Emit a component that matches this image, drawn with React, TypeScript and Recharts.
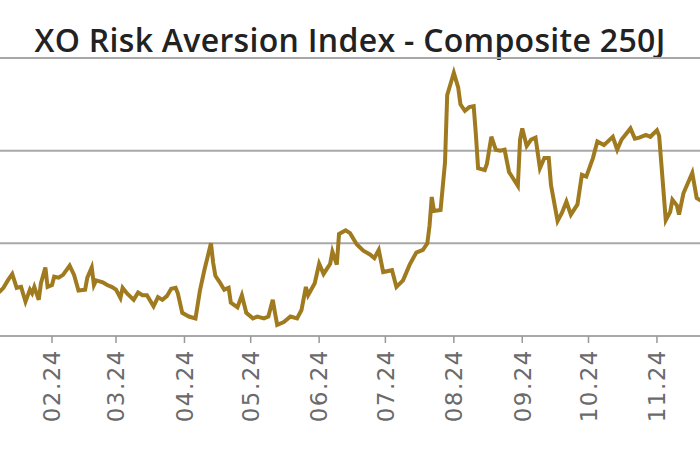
import { LineChart, Line, XAxis, YAxis, CartesianGrid } from "recharts";

// day index in 2024 (0 = 1 Jan)
const dayOfYear = [
  7, 9, 11, 13, 15, 17, 19, 21, 22, 23, 25, 26, 28, 29, 31, 32, 34, 36, 39, 41,
  43, 46, 47, 49, 50, 51, 54, 56, 58, 60, 62, 63, 65, 68, 70, 72, 74, 77, 79, 81,
  83, 85, 87, 88, 90, 93, 96, 98, 100, 103, 104, 105, 107, 109, 111, 112, 115, 117, 119, 122,
  124, 127, 129, 131, 132, 133, 136, 139, 142, 144, 146, 147, 150, 152, 154, 157, 158, 160, 161, 164,
  166, 169, 172, 175, 177, 179, 181, 185, 187, 190, 193, 196, 199, 201, 202, 203, 204, 207, 209, 210,
  212, 213, 215, 216, 218, 220, 222, 223, 224, 227, 228, 230, 232, 234, 236, 238, 242, 243, 244, 246,
  248, 250, 252, 254, 256, 257, 260, 262, 264, 266, 269, 271, 273, 276, 278, 281, 285, 287, 289, 293,
  295, 297, 300, 302, 305, 306, 309, 311, 312, 314, 315, 317, 321, 323, 325,
];

const riskIndex = [
  0.47, 0.52, 0.6, 0.67, 0.52, 0.53, 0.37, 0.5, 0.46, 0.53, 0.39, 0.57, 0.74, 0.53, 0.55, 0.64, 0.63, 0.66, 0.76, 0.66,
  0.49, 0.5, 0.63, 0.74, 0.55, 0.6, 0.58, 0.55, 0.53, 0.5, 0.41, 0.52, 0.46, 0.39, 0.47, 0.44, 0.44, 0.32, 0.42, 0.39,
  0.43, 0.51, 0.52, 0.46, 0.25, 0.21, 0.19, 0.49, 0.71, 1.0, 0.79, 0.65, 0.58, 0.5, 0.52, 0.36, 0.31, 0.44, 0.25, 0.19,
  0.21, 0.19, 0.21, 0.39, 0.25, 0.12, 0.15, 0.21, 0.19, 0.28, 0.53, 0.44, 0.57, 0.78, 0.67, 0.78, 0.91, 0.77, 1.1, 1.14,
  1.11, 0.99, 0.92, 0.88, 0.84, 0.93, 0.69, 0.71, 0.53, 0.6, 0.77, 0.9, 0.93, 1.0, 1.19, 1.5, 1.35, 1.36, 1.87, 2.6,
  2.76, 2.84, 2.68, 2.5, 2.43, 2.47, 2.48, 2.17, 1.81, 1.79, 1.86, 2.15, 2.01, 2.0, 2.01, 1.77, 1.62, 2.12, 2.24, 2.05,
  2.12, 2.14, 1.81, 1.92, 1.92, 1.63, 1.24, 1.33, 1.45, 1.31, 1.42, 1.74, 1.72, 1.92, 2.1, 2.06, 2.15, 2.01, 2.12, 2.24,
  2.13, 2.14, 2.17, 2.15, 2.22, 2.16, 1.25, 1.34, 1.47, 1.41, 1.31, 1.54, 1.76, 1.49, 1.46,
];

const monthTicks = [31, 60, 91, 121, 152, 182, 213, 244, 274, 305];
const monthLabels = ["02.24", "03.24", "04.24", "05.24", "06.24", "07.24", "08.24", "09.24", "10.24", "11.24"];
const gridLevels = [0, 1, 2, 3];

const data = dayOfYear.map((d, i) => ({ d, v: riskIndex[i] }));

function MonthTick({ x, y, payload }: any) {
  const label = monthLabels[monthTicks.indexOf(payload.value)];
  return (
    <text
      x={x}
      y={y}
      transform={`rotate(-90, ${x}, ${y})`}
      textAnchor="end"
      dy="0.36em"
      fill="#6a6a6a"
      fontSize={23}
      fontFamily="DejaVu Sans"
      letterSpacing={1.5}
    >
      {label}
    </text>
  );
}

export default function App() {
  return (
    <div style={{ position: "absolute", left: 0, top: 0, width: 700, height: 450, background: "#fff", overflow: "hidden" }}>
      <svg width={700} height={60} style={{ position: "absolute", left: 0, top: 0 }}>
        <text x={350} y={52} textAnchor="middle" fontFamily="Open Sans" fontWeight={600} fontSize={32} letterSpacing={0.3} fill="#222">
          XO Risk Aversion Index - Composite 250J
        </text>
      </svg>
      <LineChart width={700} height={450} data={data} margin={{ top: 58, right: 0, left: 0, bottom: 24 }}>
        <CartesianGrid horizontal vertical={false} stroke="#a8a8a8" strokeWidth={2} />
        <XAxis
          dataKey="d"
          type="number"
          domain={[7.45, 324.5]}
          allowDataOverflow
          ticks={monthTicks}
          interval={0}
          height={90}
          tick={<MonthTick />}
          tickSize={7}
          tickMargin={6}
          tickLine={{ stroke: "#999", strokeWidth: 1.5 }}
          axisLine={{ stroke: "#a8a8a8", strokeWidth: 2 }}
        />
        <YAxis hide type="number" domain={[0, 3]} ticks={gridLevels} allowDataOverflow />
        <Line
          type="linear"
          dataKey="v"
          stroke="#A07A1F"
          strokeWidth={4}
          dot={false}
          isAnimationActive={false}
        />
      </LineChart>
    </div>
  );
}
